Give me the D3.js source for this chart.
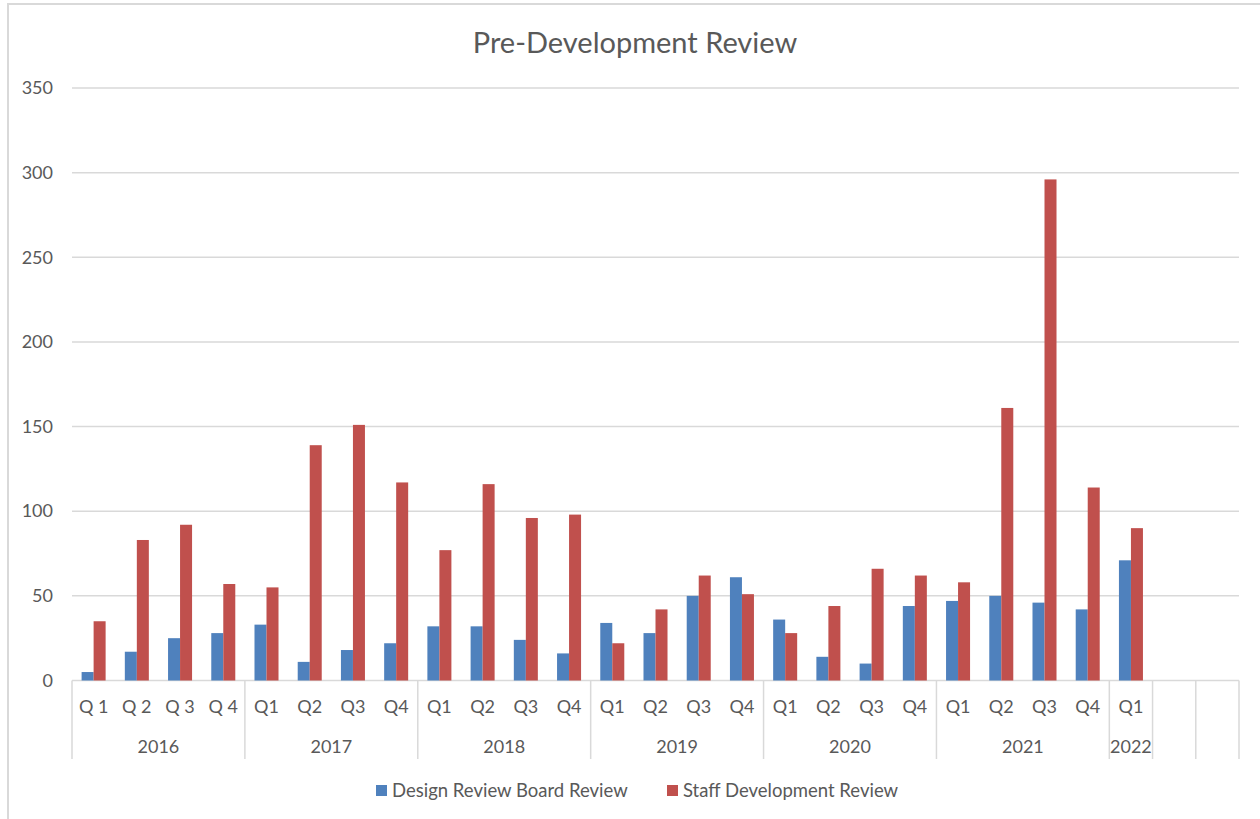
<!DOCTYPE html>
<meta charset="utf-8">
<style>
body { margin: 0; background: #fff; }
svg text { font-family: Lato, "Open Sans", sans-serif; fill: #595959; }
.grid line { stroke: #d9d9d9; stroke-width: 1.5px; }
.sep line { stroke: #d9d9d9; stroke-width: 1.5px; }
</style>
<svg width="1260" height="819"></svg>
<script src="https://cdn.jsdelivr.net/npm/d3@7"></script>
<script>

// categories: year + quarter, last two slots are empty in the source sheet
var catYear = ["2016","2016","2016","2016","2017","2017","2017","2017",
               "2018","2018","2018","2018","2019","2019","2019","2019",
               "2020","2020","2020","2020","2021","2021","2021","2021",
               "2022","",""];
var catQuarter = ["Q 1","Q 2","Q 3","Q 4","Q1","Q2","Q3","Q4",
                  "Q1","Q2","Q3","Q4","Q1","Q2","Q3","Q4",
                  "Q1","Q2","Q3","Q4","Q1","Q2","Q3","Q4",
                  "Q1","",""];

var seriesNames = ["Design Review Board Review", "Staff Development Review"];
var designBoard = [5,17,25,28, 33,11,18,22, 32,32,24,16, 34,28,50,61, 36,14,10,44, 47,50,46,42, 71, null, null];
var staffReview = [35,83,92,57, 55,139,151,117, 77,116,96,98, 22,42,62,51, 28,44,66,62, 58,161,296,114, 90, null, null];
var yTicks = [0,50,100,150,200,250,300,350];
var colors = ["#4f81bd", "#c0504d"];

var svg = d3.select("svg");

// chart frame
svg.append("rect")
    .attr("x", 8).attr("y", 4)
    .attr("width", 1270).attr("height", 830)
    .attr("fill", "none")
    .attr("stroke", "#d9d9d9")
    .attr("stroke-width", 2);

var plotLeft = 72, plotRight = 1239, plotTop = 88, plotBottom = 680.5;

var idx = d3.range(catQuarter.length);
var x = d3.scaleBand().domain(idx).range([plotLeft, plotRight]).padding(0);
var xSub = d3.scaleBand().domain([0, 1]).range([0, x.bandwidth()])
    .paddingInner(0).paddingOuter(0.8);
var y = d3.scaleLinear().domain([0, 350]).range([plotBottom, plotTop]);

// title
svg.append("text")
    .attr("x", 635).attr("y", 53)
    .attr("text-anchor", "middle")
    .style("font-size", "29px")
    .text("Pre-Development Review");

// gridlines
svg.append("g").attr("class", "grid")
  .selectAll("line")
  .data(yTicks)
  .enter().append("line")
    .attr("x1", plotLeft).attr("x2", plotRight)
    .attr("y1", function(d) { return y(d); })
    .attr("y2", function(d) { return y(d); });

// y labels
var yAxis = d3.axisLeft(y).tickValues(yTicks).tickSize(0).tickPadding(0);
var yg = svg.append("g").attr("transform", "translate(53,0)").call(yAxis);
yg.select(".domain").remove();
yg.selectAll("text")
    .style("font-size", "18px")
    .style("font-family", "Lato")
    .attr("fill", "#595959");

// bars
var rows = idx.map(function(i) { return [designBoard[i], staffReview[i]]; });
var cat = svg.append("g").selectAll("g")
  .data(rows)
  .enter().append("g")
    .attr("transform", function(d, i) { return "translate(" + x(i) + ",0)"; });

cat.selectAll("rect")
  .data(function(d) { return d.map(function(v, s) { return {v: v, s: s}; }).filter(function(e) { return e.v != null; }); })
  .enter().append("rect")
    .attr("x", function(d) { return xSub(d.s); })
    .attr("width", xSub.bandwidth())
    .attr("y", function(d) { return y(d.v); })
    .attr("height", function(d) { return y(0) - y(d.v); })
    .attr("fill", function(d) { return colors[d.s]; });

// multi-level category axis
var groups = [];
idx.forEach(function(i) {
  var g = groups[groups.length - 1];
  if (g && catYear[i] !== "" && g.year === catYear[i]) g.end = i;
  else groups.push({year: catYear[i], start: i, end: i});
});

var bounds = groups.map(function(g) { return x(g.start); }).concat([plotRight]);
svg.append("g").attr("class", "sep")
  .selectAll("line")
  .data(bounds)
  .enter().append("line")
    .attr("x1", function(d) { return d; }).attr("x2", function(d) { return d; })
    .attr("y1", plotBottom).attr("y2", 759);

svg.append("g").selectAll("text")
  .data(idx)
  .enter().append("text")
    .attr("x", function(i) { return x(i) + x.bandwidth() / 2; })
    .attr("y", 713)
    .attr("text-anchor", "middle")
    .style("font-size", "18px")
    .text(function(i) { return catQuarter[i]; });

svg.append("g").selectAll("text")
  .data(groups)
  .enter().append("text")
    .attr("x", function(g) { return (x(g.start) + x(g.end) + x.bandwidth()) / 2; })
    .attr("y", 753)
    .attr("text-anchor", "middle")
    .style("font-size", "18px")
    .text(function(g) { return g.year; });

// legend
var legendX = [376, 667];
var lg = svg.append("g").selectAll("g")
  .data(seriesNames)
  .enter().append("g")
    .attr("transform", function(d, i) { return "translate(" + legendX[i] + ",785)"; });
lg.append("rect")
    .attr("width", 11).attr("height", 11)
    .attr("fill", function(d, i) { return colors[i]; });
lg.append("text")
    .attr("x", 16).attr("y", 11.5)
    .style("font-size", "18.5px")
    .text(function(d) { return d; });

</script>
